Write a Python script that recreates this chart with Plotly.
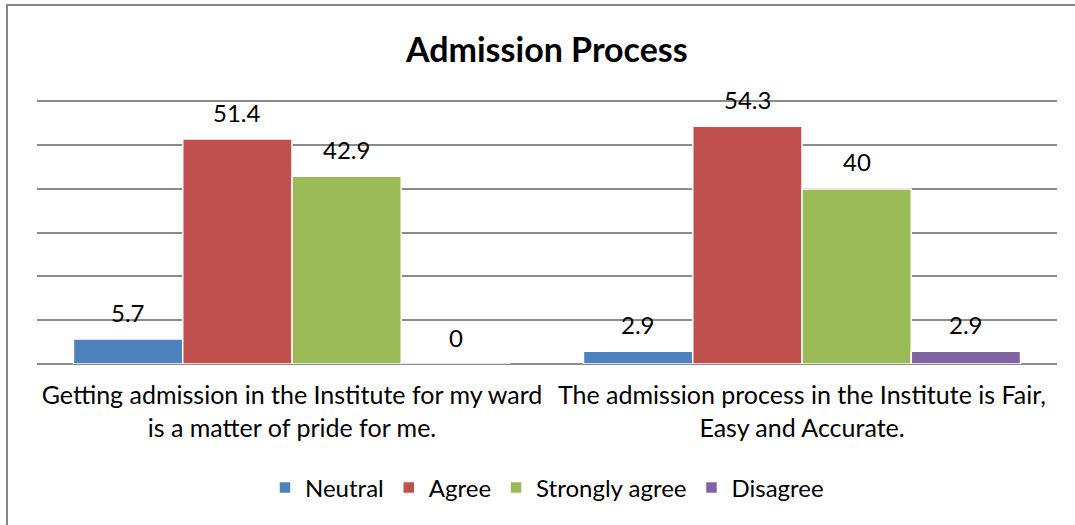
import plotly.graph_objects as go

categories = ["Getting admission in the Institute for my ward<br>is a matter of pride for me.",
              "The admission process in the Institute is Fair,<br>Easy and Accurate."]
series_names = ["Neutral", "Agree", "Strongly agree", "Disagree"]
neutral = [5.7, 2.9]
agree = [51.4, 54.3]
strongly_agree = [42.9, 40]
disagree = [0, 2.9]
label_text = {
    "Neutral": ["5.7", "2.9"],
    "Agree": ["51.4", "54.3"],
    "Strongly agree": ["42.9", "40"],
    "Disagree": ["0", "2.9"],
}
colors = ["#4F81BD", "#C0504D", "#9BBB59", "#8064A2"]

FONT = "Lato"
values = [neutral, agree, strongly_agree, disagree]
xs = [0, 1]
bargap = 0.143
nser = len(series_names)
bw = (1 - bargap) / nser

fig = go.Figure()
for name, vals, col in zip(series_names, values, colors):
    fig.add_trace(go.Bar(
        x=xs, y=vals, name=name,
        marker=dict(color=col, line=dict(color="white", width=1.5)),
    ))

annotations = []
for j, (name, vals) in enumerate(zip(series_names, values)):
    for i, v in enumerate(vals):
        annotations.append(dict(
            x=xs[i] + (j - (nser - 1) / 2) * bw, y=v, xref="x", yref="y",
            text=label_text[name][i], showarrow=False, yshift=27,
            font=dict(family=FONT, size=24, color="#000000"),
        ))

# plot area: top margin 97, bottom 161 -> 267 px for 61 units
fig.update_layout(
    width=1075, height=525,
    margin=dict(l=37, r=18, t=97, b=161),
    paper_bgcolor="white", plot_bgcolor="white",
    barmode="group", bargap=bargap, bargroupgap=0,
    title=dict(text="<b>Admission Process</b>", x=0.5087, xanchor="center",
               y=0.905, yanchor="middle",
               font=dict(family=FONT, size=34, color="#000000")),
    xaxis=dict(tickvals=xs, ticktext=categories, range=[-0.5, 1.5],
               showgrid=False, showline=False, ticks="", zeroline=False,
               automargin=False, ticklabelstandoff=14,
               tickfont=dict(family=FONT, size=25, color="#000000")),
    yaxis=dict(range=[0, 61], tickvals=[0, 10, 20, 30, 40, 50, 60],
               showticklabels=False, showgrid=True,
               gridcolor="#8C8C8C", gridwidth=1.5, zeroline=True, automargin=False,
               zerolinecolor="#8C8C8C", zerolinewidth=1.5, showline=False),
    showlegend=True,
    legend=dict(orientation="h", x=0.5, xanchor="center", y=-0.4645, yanchor="middle",
                font=dict(family=FONT, size=24, color="#000000"),
                itemwidth=30, traceorder="normal", bgcolor="rgba(0,0,0,0)"),
    annotations=annotations,
    shapes=[dict(type="rect", xref="paper", yref="paper",
                 x0=-0.0294, x1=1.2, y0=-1.0, y1=1.345,
                 line=dict(color="#868686", width=2), fillcolor="rgba(0,0,0,0)",
                 layer="below")],
)

fig.write_html("out.html", config={"displayModeBar": False},
               post_script="document.body.style.margin='0';")
